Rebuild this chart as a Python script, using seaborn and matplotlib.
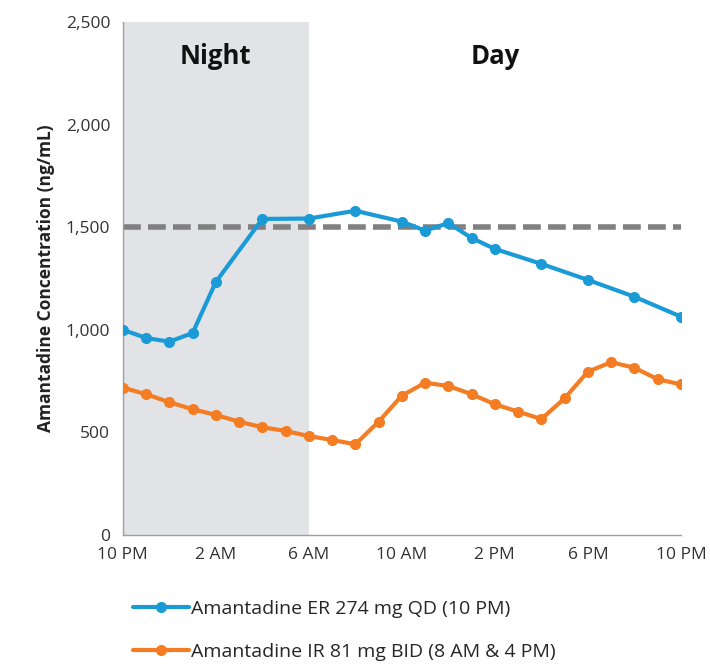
import matplotlib
matplotlib.use("Agg")
import matplotlib.pyplot as plt
import seaborn as sns
import pandas as pd

# Hours after the 10 PM dose
er_hours = [0, 1, 2, 3, 4, 6, 8, 10, 12, 13, 14, 15, 16, 18, 20, 22, 24]
er_conc = [1000, 960, 942, 984, 1233, 1540, 1542, 1580, 1527, 1483, 1520,
           1447, 1394, 1321, 1243, 1161, 1064]

ir_hours = list(range(0, 25))
ir_conc = [718, 686, 647, 613, 585, 552, 525, 507, 482, 463, 442, 552, 679,
           742, 726, 686, 637, 601, 565, 666, 796, 842, 815, 759, 734]

er_label = "Amantadine ER 274 mg QD (10 PM)"
ir_label = "Amantadine IR 81 mg BID (8 AM & 4 PM)"
tick_hours = [0, 4, 8, 12, 16, 20, 24]
tick_labels = ["10 PM", "2 AM", "6 AM", "10 AM", "2 PM", "6 PM", "10 PM"]
y_ticks = [0, 500, 1000, 1500, 2000, 2500]
threshold = 1500
night_span = (0, 8)

df = pd.concat([
    pd.DataFrame({"hour": er_hours, "conc": er_conc, "regimen": er_label}),
    pd.DataFrame({"hour": ir_hours, "conc": ir_conc, "regimen": ir_label}),
])

sns.set_style("white")
plt.rcParams["font.family"] = ["Open Sans", "DejaVu Sans"]

fig = plt.figure(figsize=(7.1, 6.65), dpi=100)
ax = fig.add_axes([0.173, 0.1955, 0.786, 0.7715])

ax.axvspan(*night_span, color="#e1e3e6", zorder=0, lw=0)
ax.axhline(threshold, color="#808080", lw=4, ls=(0, (3.2, 1.3)), zorder=1)

palette = {er_label: "#1a9bd7", ir_label: "#f47c22"}
sns.lineplot(data=df, x="hour", y="conc", hue="regimen", palette=palette,
             marker="o", markersize=8, markeredgewidth=0, linewidth=3,
             ax=ax, zorder=3)

ax.set_xlim(0, 24)
ax.set_ylim(0, 2500)
ax.set_xticks(tick_hours)
ax.set_xticklabels(tick_labels)
ax.set_yticks(y_ticks)
ax.set_yticklabels([f"{v:,}" for v in y_ticks])
ax.tick_params(axis="both", labelsize=12.5, length=5, width=1,
               direction="out", pad=4, colors="#a0a0a0",
               labelcolor="#333333")
ax.set_xlabel("")
ax.set_ylabel("Amantadine Concentration (ng/mL)", fontsize=12.5,
              fontweight="bold", color="#222222", labelpad=8)

for side in ("top", "right"):
    ax.spines[side].set_visible(False)
for side in ("left", "bottom"):
    ax.spines[side].set_color("#a0a0a0")
    ax.spines[side].set_linewidth(1)

ax.text(4, 2330, "Night", ha="center", va="center", fontsize=18.5,
        fontweight="bold", color="#111111")
ax.text(16, 2330, "Day", ha="center", va="center", fontsize=18.5,
        fontweight="bold", color="#111111")

handles, labels = ax.get_legend_handles_labels()
ax.legend(handles, labels, loc="upper left",
          bbox_to_anchor=(133 / 710, 1 - 600 / 665),
          bbox_transform=fig.transFigure, frameon=False, fontsize=14,
          handlelength=2.9, handletextpad=0.1, labelspacing=1.3,
          borderaxespad=0, borderpad=0)

fig.savefig("out.png", dpi=100)
